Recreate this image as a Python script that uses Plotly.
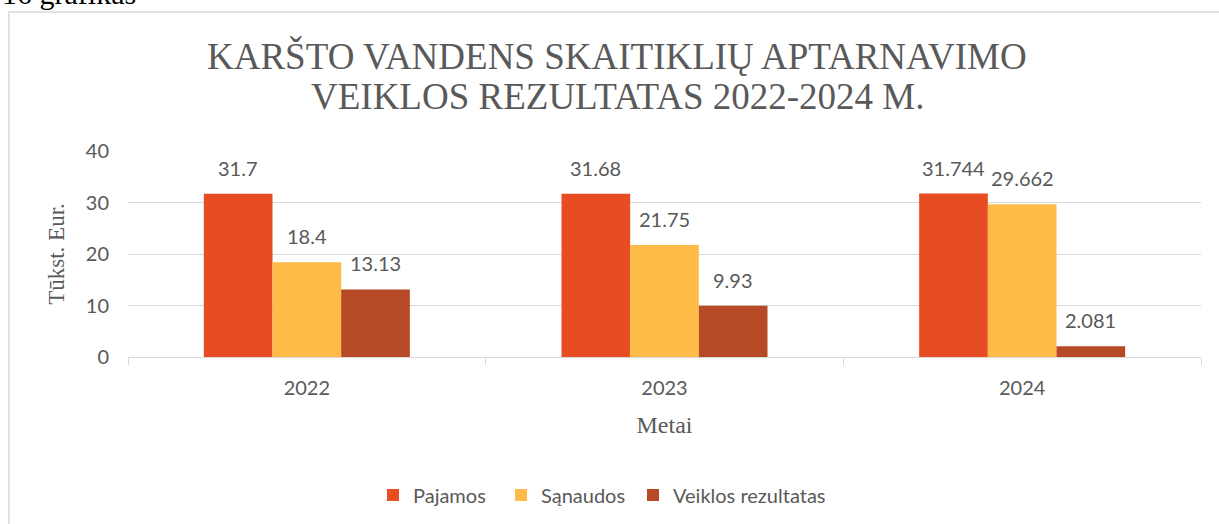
import plotly.graph_objects as go

years = ["2022", "2023", "2024"]
series_names = ["Pajamos", "Sąnaudos", "Veiklos rezultatas"]
pajamos = [31.7, 31.68, 31.744]
sanaudos = [18.4, 21.75, 29.662]
veiklos = [13.13, 9.93, 2.081]
label_texts = [
    ["31.7", "31.68", "31.744"],
    ["18.4", "21.75", "29.662"],
    ["13.13", "9.93", "2.081"],
]
y_ticks = [0, 10, 20, 30, 40]

colors = ["#E84C22", "#FFBB47", "#B64A26"]
values = [pajamos, sanaudos, veiklos]

W, H = 1219, 524
L, R, T, B = 128, 18, 151, 167
pw = W - L - R
ph = H - T - B

def px_x(p):
    return (p - L) / pw

def px_y(p):
    return (H - B - p) / ph

sans = "Lato"
serif = "Liberation Serif"
gray = "#595959"

# legend square left edges in reference pixels
legend_left = [387, 515, 647]
legend_names = ["legend", "legend2", "legend3"]

fig = go.Figure()
for name, vals, col, lg in zip(series_names, values, colors, legend_names):
    fig.add_trace(go.Bar(x=years, y=vals, name=name, legend=lg,
                         marker=dict(color=col, line=dict(width=0))))

annotations = []
bar_w = pw / 3 * (1 - 0.424) / 3
for i, (vals, texts) in enumerate(zip(values, label_texts)):
    for j, (v, t) in enumerate(zip(vals, texts)):
        annotations.append(dict(
            x=j, y=v, xref="x", yref="y", text=t, showarrow=False,
            xshift=(i - 1) * bar_w, yshift=26, yanchor="middle",
            font=dict(family=sans, size=20, color=gray)))

# title lines
annotations.append(dict(x=px_x(617), y=px_y(56), xref="paper", yref="paper",
                        text="KARŠTO VANDENS SKAITIKLIŲ APTARNAVIMO", showarrow=False,
                        xanchor="center", yanchor="middle",
                        font=dict(family=serif, size=37, color=gray)))
annotations.append(dict(x=px_x(617), y=px_y(97), xref="paper", yref="paper",
                        text="VEIKLOS REZULTATAS 2022-2024 M.", showarrow=False,
                        xanchor="center", yanchor="middle",
                        font=dict(family=serif, size=37, color=gray)))
# caption above chart (cut off at top)
annotations.append(dict(x=px_x(0), y=px_y(-6), xref="paper", yref="paper",
                        text="16 grafikas", showarrow=False,
                        xanchor="left", yanchor="middle",
                        font=dict(family=serif, size=30, color="#000000")))

shapes = [dict(type="rect", xref="paper", yref="paper",
               x0=px_x(9), x1=px_x(1240), y0=px_y(560), y1=px_y(12),
               line=dict(color="#d9d9d9", width=1.5), fillcolor="rgba(0,0,0,0)", layer="below")]

legend_common = dict(orientation="h", xanchor="left", yanchor="middle",
                     font=dict(family=sans, size=20, color=gray),
                     bgcolor="rgba(0,0,0,0)")
legends = {}
for lg, xl in zip(legend_names, legend_left):
    legends[lg] = dict(x=px_x(xl - 14), y=px_y(495), **legend_common)

fig.update_layout(
    width=W, height=H,
    margin=dict(l=L, r=R, t=T, b=B, autoexpand=False),
    paper_bgcolor="white", plot_bgcolor="white",
    barmode="group", bargap=0.424, bargroupgap=0,
    showlegend=True,
    annotations=annotations,
    shapes=shapes,
    xaxis=dict(
        type="category", range=[-0.5, 2.5], autorange=False,
        showgrid=False, showline=True, linecolor="#d9d9d9", linewidth=1,
        ticks="outside", tickson="boundaries", ticklen=7, tickcolor="#d9d9d9",
        tickfont=dict(family=sans, size=20, color=gray), ticklabelstandoff=13, tickangle=0,
        title=dict(text="Metai", font=dict(family=serif, size=24, color=gray), standoff=18),
        automargin=False,
    ),
    yaxis=dict(
        range=[0, 40], autorange=False, tickvals=y_ticks, showgrid=True, gridcolor="#d9d9d9", gridwidth=1,
        zeroline=False, showline=False, ticks="",
        tickfont=dict(family=sans, size=20, color=gray), ticklabelstandoff=18,
        title=dict(text="Tūkst. Eur.", font=dict(family=serif, size=23, color=gray), standoff=14),
        automargin=False,
    ),
    **legends,
)

fig.write_html("out.html", config={"displayModeBar": False},
               post_script="document.body.style.margin='0';")
